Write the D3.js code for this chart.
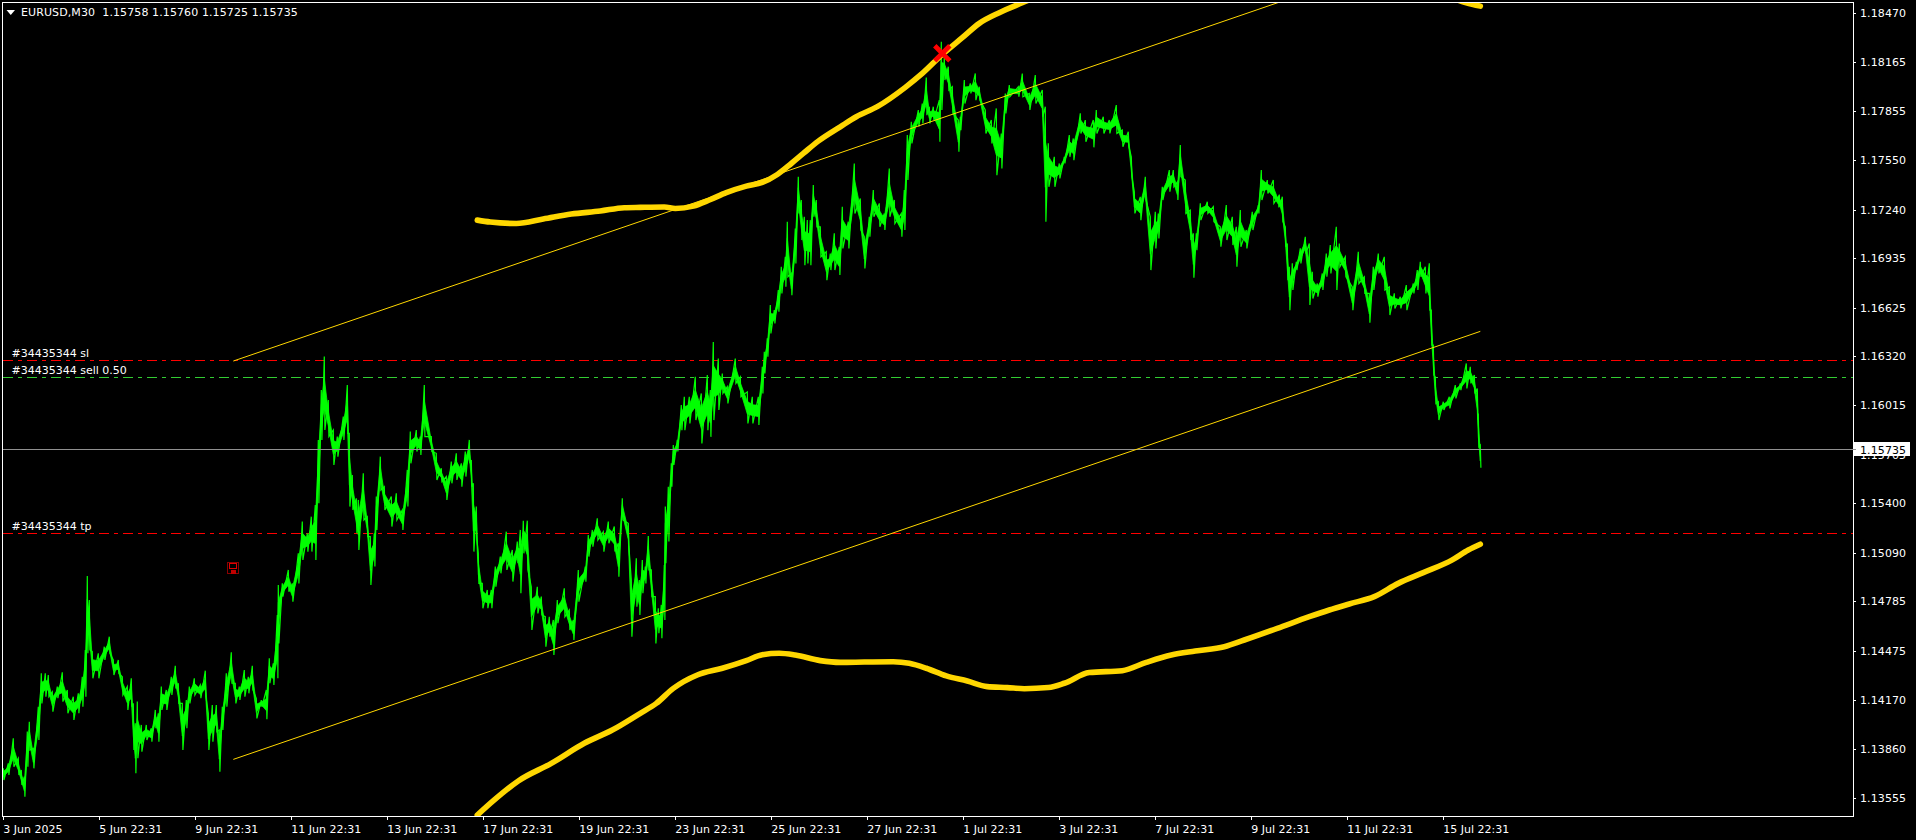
<!DOCTYPE html>
<html><head><meta charset="utf-8">
<script src="https://cdn.jsdelivr.net/npm/d3@7/dist/d3.min.js"></script>
<style>
html,body{margin:0;padding:0;background:#000;overflow:hidden}
svg{display:block}
text{font-family:"DejaVu Sans",sans-serif;font-size:11px;fill:#fff}
</style></head><body>
<script>
// All prices are in points above 1.00000 (13861 = 1.13861). x values are M30 bar numbers.
const priceTicks=[18470,18165,17855,17550,17240,16935,16625,16320,16015,15705,15400,15090,14785,14475,14170,13860,13555];
const timeTickBars=[0,96,192,288,384,480,576,672,768,864,960,1056,1152,1248,1344,1440];
const timeLabels=["3 Jun 2025","5 Jun 22:31","9 Jun 22:31","11 Jun 22:31","13 Jun 22:31","17 Jun 22:31","19 Jun 22:31","23 Jun 22:31","25 Jun 22:31","27 Jun 22:31","1 Jul 22:31","3 Jul 22:31","7 Jul 22:31","9 Jul 22:31","11 Jul 22:31","15 Jul 22:31"];

const barIndex=[0,5,10,15,18,21,24,26,30,35,38,42,45,49,54,59,64,70,75,79,82,84,86,89,95,101,106,110,115,119,124,128,130,132,134,138,143,148,152,155,158,163,168,172,175,179,183,186,191,197,202,205,209,213,216,219,223,228,232,236,241,245,249,253,258,263,266,270,274,275,279,285,289,295,299,304,308,312,315,318,321,325,330,334,340,344,346,349,353,355,360,364,367,371,373,377,381,388,393,399,404,407,413,417,421,428,433,438,443,448,453,458,462,466,468,470,473,475,479,484,488,492,497,503,509,514,517,520,524,528,534,538,542,546,550,554,561,566,570,575,582,585,589,594,600,605,611,615,619,625,628,633,636,
639,642,645,648,652,655,658,661,662,665,668,670,674,678,681,686,692,698,704,707,710,715,719,724,732,737,744,749,755,759,761,764,767,771,775,778,782,784,788,792,795,798,801,804,807,810,813,817,823,827,831,836,839,845,851,857,861,866,870,876,881,886,891,898,901,904,908,915,919,923,926,930,936,938,941,945,949,955,957,961,967,972,976,982,988,993,998,1002,1006,1015,1019,1026,1032,1039,1042,1045,1051,1056,1061,1066,1070,1077,1082,1090,1093,1100,1106,1113,1119,1125,1128,1131,1137,1142,1147,1152,1155,1159,1166,1170,1174,1177,1182,1187,1190,1193,1197,1204,1210,1217,1223,1229,1233,1237,1243,1249,1255,1258,1264,1270,1275,
1276,1279,1282,1284,1286,1289,1293,1297,1302,1306,1309,1314,1319,1323,1327,1333,1336,1342,1349,1355,1361,1366,1370,1375,1381,1386,1391,1397,1403,1410,1414,1417,1422,1426,1428,1430,1432,1435,1440,1446,1452,1457,1463,1467,1471,1474,1475,1477];
const highPts=[13739,13770,13927,13802,13729,13687,13969,14031,13864,14125,14334,14334,14324,14219,14251,14341,14230,14188,14209,14313,14481,14944,14794,14470,14460,14501,14564,14418,14418,14313,14251,14303,14146,14021,14157,14011,14011,13990,14105,14084,14251,14230,14313,14382,14272,14146,14167,14251,14303,14261,14351,14084,14136,14136,13979,14125,14334,14466,14272,14251,14355,14313,14382,14178,14167,14230,14428,14397,14700,14888,14898,14982,14898,15086,15285,15212,15316,15389,15797,16110,16319,16047,15859,15818,15943,16141,15838,15577,15431,15421,15588,15316,15191,15212,15442,15692,15504,15442,15462,15358,15609,15849,15859,15818,16141,15818,15713,15619,15567,15661,15713,15650,15724,15797,15671,15525,15379,15086,14898,14857,14857,15003,15066,15222,15107,15160,15233,15291,15291,14877,14877,14815,14689,14689,14669,14794,14867,14731,14669,14982,15003,15201,15233,15306,15222,15285,15254,15149,15431,15274,14919,15055,14919,
15045,15003,15195,14982,14815,14742,14763,15013,15379,15504,15650,15765,15797,16015,16067,16067,16192,16088,16203,16109,16410,16307,16213,16130,16307,16192,16098,16067,16067,16255,16349,16433,16642,16610,16736,16882,16944,17164,16840,17122,17446,17300,17195,17174,17174,17394,17300,17132,16976,16965,17091,17007,17258,17164,17529,17310,17070,17195,17362,17279,17216,17498,17300,17216,17362,17707,17791,17864,17905,18068,17885,17885,17926,18292,18198,18135,18010,17801,17822,18052,18031,18093,18010,17864,17801,17874,17717,17968,18020,18010,18093,17968,18083,17989,17885,17655,17571,17529,17571,17707,17686,17843,17801,17801,17864,17822,17801,17895,17738,17728,17571,17352,17320,17446,17195,17226,17216,17383,17488,17488,17414,17644,17425,17237,17091,17091,17279,17289,17258,17132,17268,17195,17132,17237,17112,17226,17268,17488,17425,17425,17321,
17335,17321,17132,17028,16882,16903,16913,16997,17070,17028,16850,16777,16840,16965,17018,17132,17028,16944,16756,16976,16819,16715,16882,16965,16944,16756,16715,16694,16767,16777,16861,16913,16882,16903,16610,16391,16192,16036,16036,16067,16140,16151,16276,16255,16203,16119,15963,15764];
const lowPts=[13666,13697,13749,13697,13635,13561,13749,13854,13739,13917,14146,14188,14188,14094,14178,14157,14084,14042,14084,14125,14188,14460,14481,14303,14303,14418,14460,14324,14334,14199,14105,14125,13854,13708,13802,13843,13917,13906,13990,13906,14105,14105,14199,14240,14146,13854,13990,14146,14199,14178,14188,13854,13906,13969,13718,13979,14125,14272,14146,14167,14188,14209,14230,14052,14125,14046,14272,14261,14303,14522,14815,14846,14783,14898,15045,15097,15097,15045,15400,15797,15859,15818,15640,15692,15797,15838,15379,15358,15212,15107,15295,15191,14888,15003,15233,15483,15358,15254,15295,15233,15379,15650,15724,15703,15818,15724,15546,15536,15421,15525,15546,15504,15567,15650,15504,15097,15170,14898,14742,14742,14742,14877,14961,14982,14909,15024,14836,15086,14982,14606,14710,14700,14501,14564,14449,14648,14689,14606,14543,14783,14909,15066,15128,15170,15097,15149,15097,14940,15295,15128,14564,14752,14700,
14836,14898,14982,14815,14522,14585,14554,14669,15024,15160,15504,15640,15724,15858,15858,15900,15921,15775,15858,15816,15921,15984,16088,16025,16151,16067,15900,15900,15890,16088,16213,16318,16464,16527,16600,16715,16756,16819,16704,16903,17216,17049,16892,16903,16892,17195,17132,16944,16798,16861,16861,16830,16997,16997,17216,17112,16871,17070,17195,17132,17112,17195,17153,17070,17112,17425,17655,17759,17780,17832,17780,17801,17665,17864,18052,17989,17843,17603,17738,17905,17968,17926,17926,17717,17655,17456,17498,17843,17947,17947,17947,17864,17905,17822,17164,17383,17383,17435,17529,17571,17550,17717,17665,17630,17717,17717,17717,17717,17634,17634,17446,17216,17174,17300,16861,16997,17059,17300,17352,17383,17300,17446,17216,17049,16813,16986,17174,17216,17164,17007,17049,17018,16882,17007,16997,17112,17216,17300,17341,17279,17254,
17258,17164,17007,16798,16610,16736,16861,16903,16965,16642,16683,16694,16736,16819,16840,16736,16882,16819,16610,16777,16715,16531,16736,16840,16736,16579,16621,16621,16610,16715,16736,16819,16715,16610,16391,16203,16025,15921,15984,15994,16057,16109,16119,16151,16088,15921,15754,15622];

const upperBandBars=[474,487,513,540,568,597,621,637,661,672,690,706,723,743,759,774,788,800,815,837,853,874,902,919,939,959,976,996,1019,1060,1150,1250,1350,1430,1463,1477];
const upperBandPts=[17174,17162,17153,17181,17212,17231,17252,17254,17256,17247,17262,17300,17346,17387,17410,17460,17529,17592,17669,17759,17822,17885,18006,18093,18212,18317,18407,18474,18536,18640,18790,18830,18750,18610,18536,18515];
const lowerBandBars=[474,491,515,548,581,609,637,653,670,694,719,743,759,776,792,817,837,861,890,906,923,943,964,984,1004,1021,1045,1061,1086,1119,1143,1168,1192,1221,1241,1274,1306,1326,1346,1371,1395,1420,1449,1465,1477];
const lowerBandPts=[13446,13541,13660,13770,13896,13979,14084,14146,14240,14324,14366,14414,14451,14460,14449,14414,14403,14405,14407,14397,14366,14318,14286,14251,14245,14238,14245,14272,14339,14351,14403,14449,14474,14501,14543,14616,14689,14731,14769,14815,14898,14965,15045,15107,15143];
const channelBars=[230,1477];
const channelUpperPts=[16291,18972];
const channelLowerPts=[13795,16477];

const headerText="EURUSD,M30  1.15758 1.15760 1.15725 1.15735";
const orderLevelNames=["#34435344 sl","#34435344 sell 0.50","#34435344 tp"];
const orderLevelPts=[16296,16189,15212];
const orderLevelColors=["#ff0000","#32cd32","#ff0000"];
const lastPrice=15735;
const xMarkBar=939, xMarkPts=18219;
const iconBar=230, iconPts=14994;

const W=1916,H=840,L=3,T=3,R=1853,B=816;
const toPrice=v=>1+v/1e5;
const x=d3.scaleLinear().domain([0,1440]).range([3.3,1443.3]);
const y=d3.scaleLinear().domain([toPrice(13555),toPrice(18470)]).range([797.7,13.3]);

const svg=d3.select("body").append("svg").attr("width",W).attr("height",H);
svg.append("rect").attr("width",W).attr("height",H).attr("fill","#000");
svg.append("clipPath").attr("id","plot").append("rect").attr("x",L).attr("y",T).attr("width",R-L).attr("height",B-T);
const plot=svg.append("g").attr("clip-path","url(#plot)");

// horizontal order lines
orderLevelPts.forEach((p,i)=>{
  plot.append("line").attr("x1",L).attr("x2",R).attr("y1",Math.round(y(toPrice(p)))+.5).attr("y2",Math.round(y(toPrice(p)))+.5)
    .attr("stroke",orderLevelColors[i]).attr("stroke-width",1).attr("stroke-dasharray","9.5 5 4 5.5").attr("shape-rendering","crispEdges");
});

// price: a saw-tooth from each sampled high to its low, over a thinner central body
const samples=barIndex.map((b,i)=>({b,h:highPts[i],l:lowPts[i]}));
const saw=[];
samples.forEach(s=>{
  saw.push([x(s.b),y(toPrice(s.h))],[x(s.b)+.6,y(toPrice(s.l))]);
});
const bodyArea=d3.area().x(d=>x(d.b))
  .y0(d=>y(toPrice(d.l+(d.h-d.l)*.3)))
  .y1(d=>y(toPrice(d.h-(d.h-d.l)*.3)));
plot.append("path").attr("d",bodyArea(samples)).attr("fill","#00ff00").attr("stroke","#00ff00").attr("stroke-width",.8);
plot.append("path").attr("d",d3.line()(saw)).attr("fill","none").attr("stroke","#00ff00").attr("stroke-width",1.2).attr("stroke-linejoin","miter");

// grey bid line
plot.append("line").attr("x1",L).attr("x2",R).attr("y1",Math.floor(y(toPrice(lastPrice)))+.5).attr("y2",Math.floor(y(toPrice(lastPrice)))+.5)
  .attr("stroke","#909090").attr("stroke-width",1).attr("shape-rendering","crispEdges");

// channel
const lineXY=d3.line().x(d=>x(d[0])).y(d=>y(toPrice(d[1])));
[channelUpperPts,channelLowerPts].forEach(a=>{
  plot.append("path").attr("d",lineXY(channelBars.map((b,i)=>[b,a[i]]))).attr("fill","none").attr("stroke","#ffd700").attr("stroke-width",1);
});
// bands
[[upperBandBars,upperBandPts],[lowerBandBars,lowerBandPts]].forEach(([bb,pp])=>{
  plot.append("path").attr("d",lineXY.curve(d3.curveMonotoneX)(bb.map((b,i)=>[b,pp[i]]))).attr("fill","none")
    .attr("stroke","#ffd700").attr("stroke-width",5.6).attr("stroke-linecap","round").attr("stroke-linejoin","round");
  lineXY.curve(d3.curveLinear);
});

// sell-signal cross
plot.append("path").attr("d",d3.symbol(d3.symbolX,150)()).attr("transform",`translate(${x(xMarkBar)},${y(toPrice(xMarkPts))})`)
  .attr("fill","none").attr("stroke","#ff0000").attr("stroke-width",4.8);

// floppy icon
const ic=plot.append("g").attr("transform",`translate(${Math.round(x(iconBar))},${Math.round(y(toPrice(iconPts)))})`).attr("shape-rendering","crispEdges");
ic.append("rect").attr("x",-5.5).attr("y",-5.5).attr("width",11).attr("height",11).attr("fill","none").attr("stroke","#8b0000").attr("stroke-width",1.4);
ic.append("rect").attr("x",-3.5).attr("y",-4.5).attr("width",7).attr("height",4.5).attr("fill","none").attr("stroke","#e00000").attr("stroke-width",1);
ic.append("rect").attr("x",-2.5).attr("y",2).attr("width",5).attr("height",3.5).attr("fill","#c00000");

// frame
svg.append("rect").attr("x",2.5).attr("y",2.5).attr("width",R-2.5).attr("height",B-2.5).attr("fill","none").attr("stroke","#fff").attr("stroke-width",1).attr("shape-rendering","crispEdges");

// axes
const yAxis=d3.axisRight(y).tickValues(priceTicks.map(toPrice)).tickFormat(d3.format(".5f")).tickSize(3).tickPadding(4);
const gy=svg.append("g").attr("transform",`translate(${R},0)`).call(yAxis);
gy.select(".domain").remove();
gy.selectAll(".tick line").attr("stroke","#fff").attr("shape-rendering","crispEdges");
gy.selectAll("text").attr("fill","#fff").style("font-family",'"DejaVu Sans",sans-serif').style("font-size","11px").style("letter-spacing","0.1px");

const xAxis=d3.axisBottom(x).tickValues(timeTickBars).tickFormat((d,i)=>timeLabels[i]).tickSize(4).tickPadding(5);
const gx=svg.append("g").attr("transform",`translate(0,${B})`).call(xAxis);
gx.select(".domain").remove();
gx.selectAll(".tick line").attr("stroke","#fff").attr("shape-rendering","crispEdges");
gx.selectAll("text").attr("fill","#fff").attr("text-anchor","start").attr("dx",-.5).style("font-family",'"DejaVu Sans",sans-serif').style("font-size","11px");

// price tag
const ty=y(toPrice(lastPrice));
svg.append("rect").attr("x",R+1).attr("y",Math.round(ty)-8).attr("width",56).attr("height",14).attr("fill","#fff");
svg.append("line").attr("x1",R).attr("x2",R+3).attr("y1",Math.floor(ty)+.5).attr("y2",Math.floor(ty)+.5).attr("stroke","#909090");
svg.append("text").attr("x",R+7).attr("y",ty+4).style("fill","#000").style("letter-spacing","0.1px").text(d3.format(".5f")(toPrice(lastPrice)));

// header
svg.append("path").attr("d","M6.5,10 L15,10 L10.75,15 Z").attr("fill","#fff");
svg.append("text").attr("x",21).attr("y",16).style("white-space","pre").style("letter-spacing","0.1px").text(headerText);

// order labels
orderLevelNames.forEach((t,i)=>{
  svg.append("text").attr("x",11.5).attr("y",Math.round(y(toPrice(orderLevelPts[i])))-3).text(t);
});
</script>
</body></html>
